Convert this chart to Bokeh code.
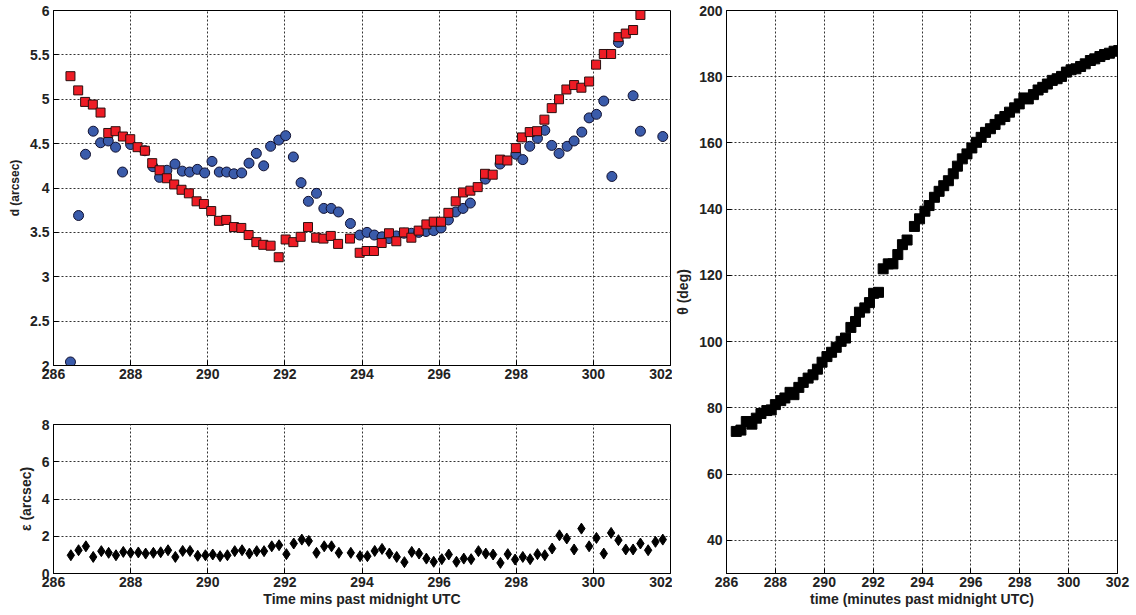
from bokeh.plotting import figure
from bokeh.layouts import row, column
from bokeh.models import FixedTicker, CustomJSTickFormatter
from bokeh.embed import file_html
from bokeh.resources import INLINE

# ---- top-left: d (arcsec) ----
red_t = [286.44, 286.64, 286.82, 287.02, 287.22, 287.42, 287.61, 287.80, 287.99, 288.18,
         288.37, 288.56, 288.75, 288.94, 289.13, 289.32, 289.51, 289.71, 289.90, 290.09,
         290.29, 290.48, 290.68, 290.87, 291.06, 291.26, 291.44, 291.63, 291.84, 292.02,
         292.22, 292.41, 292.60, 292.81, 293.00, 293.19, 293.38, 293.69, 293.94, 294.12,
         294.31, 294.51, 294.70, 294.89, 295.09, 295.28, 295.47, 295.67, 295.86, 296.05,
         296.24, 296.43, 296.62, 296.81, 297.00, 297.19, 297.39, 297.58, 297.77, 297.99,
         298.15, 298.35, 298.54, 298.73, 298.92, 299.11, 299.30, 299.50, 299.69, 299.89,
         300.07, 300.27, 300.46, 300.65, 300.84, 301.03, 301.22]
red_d = [5.26, 5.10, 4.97, 4.94, 4.85, 4.62, 4.64, 4.58, 4.55, 4.46,
         4.42, 4.28, 4.20, 4.11, 4.04, 3.98, 3.94, 3.85, 3.82, 3.74,
         3.63, 3.64, 3.56, 3.55, 3.47, 3.39, 3.36, 3.35, 3.22, 3.42,
         3.39, 3.45, 3.56, 3.44, 3.43, 3.46, 3.37, 3.43, 3.27, 3.29,
         3.29, 3.38, 3.49, 3.40, 3.50, 3.44, 3.52, 3.59, 3.62, 3.62,
         3.72, 3.85, 3.95, 3.97, 4.01, 4.16, 4.15, 4.32, 4.31, 4.45,
         4.57, 4.63, 4.64, 4.77, 4.90, 5.00, 5.11, 5.16, 5.13, 5.20,
         5.39, 5.51, 5.51, 5.70, 5.74, 5.78, 5.95]

blue_t = [286.44, 286.65, 286.83, 287.03, 287.22, 287.42, 287.61, 287.79, 288.00, 288.37,
          288.58, 288.75, 288.94, 289.15, 289.34, 289.53, 289.73, 289.92, 290.11, 290.30,
          290.49, 290.68, 290.88, 291.07, 291.26, 291.45, 291.63, 291.84, 292.02, 292.22,
          292.42, 292.61, 292.82, 293.01, 293.20, 293.39, 293.70, 293.94, 294.13, 294.32,
          294.52, 294.70, 294.89, 295.09, 295.28, 295.47, 295.66, 295.86, 296.05, 296.24,
          296.43, 296.62, 296.81, 297.20, 297.58, 297.99, 298.17, 298.35, 298.55, 298.74,
          298.92, 299.11, 299.32, 299.50, 299.70, 299.89, 300.08, 300.27, 300.48, 300.65,
          301.03, 301.22, 301.80]
blue_d = [2.04, 3.69, 4.38, 4.64, 4.51, 4.53, 4.46, 4.18, 4.49, 4.42,
          4.24, 4.12, 4.20, 4.27, 4.19, 4.18, 4.21, 4.17, 4.30, 4.18,
          4.18, 4.16, 4.17, 4.28, 4.39, 4.25, 4.47, 4.54, 4.59, 4.35,
          4.06, 3.85, 3.94, 3.77, 3.77, 3.73, 3.60, 3.47, 3.50, 3.47,
          3.45, 3.43, 3.46, 3.49, 3.49, 3.50, 3.51, 3.52, 3.55, 3.64,
          3.73, 3.77, 3.83, 4.10, 4.27, 4.38, 4.32, 4.47, 4.56, 4.65,
          4.48, 4.39, 4.47, 4.53, 4.63, 4.79, 4.83, 4.98, 4.13, 5.64,
          5.04, 4.64, 4.58]

# ---- bottom-left: epsilon (arcsec) ----
eps_t = [286.45, 286.65, 286.84, 287.03, 287.24, 287.43, 287.62, 287.81, 288.00, 288.20,
         288.39, 288.59, 288.78, 288.97, 289.16, 289.35, 289.54, 289.74, 289.94, 290.13,
         290.32, 290.51, 290.70, 290.89, 291.08, 291.27, 291.46, 291.66, 291.85, 292.04,
         292.23, 292.44, 292.62, 292.82, 293.02, 293.21, 293.40, 293.71, 293.95, 294.14,
         294.33, 294.52, 294.71, 294.90, 295.10, 295.29, 295.48, 295.67, 295.86, 296.07,
         296.25, 296.45, 296.64, 296.83, 297.02, 297.21, 297.40, 297.59, 297.78, 297.97,
         298.17, 298.36, 298.55, 298.74, 298.93, 299.12, 299.31, 299.50, 299.69, 299.89,
         300.08, 300.27, 300.46, 300.65, 300.84, 301.03, 301.22, 301.42, 301.61, 301.80]
eps = [0.98, 1.25, 1.46, 0.89, 1.20, 1.11, 0.98, 1.16, 1.11, 1.13,
       1.07, 1.11, 1.14, 1.25, 0.89, 1.21, 1.21, 0.95, 0.98, 1.02,
       0.93, 0.98, 1.20, 1.25, 1.07, 1.20, 1.20, 1.46, 1.52, 1.04,
       1.61, 1.82, 1.75, 1.11, 1.46, 1.46, 1.11, 1.11, 0.93, 0.93,
       1.21, 1.32, 1.07, 0.89, 0.61, 1.16, 1.07, 0.80, 0.63, 0.77,
       1.02, 0.63, 0.80, 0.77, 1.20, 1.07, 1.02, 0.57, 1.04, 0.75,
       0.89, 0.77, 1.04, 0.98, 1.34, 2.05, 1.88, 1.29, 2.41, 1.46,
       1.91, 1.07, 2.18, 1.79, 1.29, 1.29, 1.61, 1.25, 1.70, 1.82]

# ---- right: theta (deg) ----
theta_t = [286.40, 286.59, 286.81, 287.04, 287.22, 287.41, 287.65, 287.83, 288.00, 288.22,
           288.39, 288.60, 288.76, 288.96, 289.14, 289.34, 289.54, 289.72, 289.91, 290.11,
           290.30, 290.49, 290.69, 290.87, 291.09, 291.28, 291.44, 291.66, 291.85, 292.02,
           292.22, 292.41, 292.62, 292.81, 293.01, 293.20, 293.39, 293.69, 293.90, 294.12,
           294.29, 294.51, 294.70, 294.89, 295.08, 295.28, 295.45, 295.65, 295.84, 296.04,
           296.23, 296.42, 296.60, 296.80, 296.99, 297.19, 297.39, 297.58, 297.79, 297.98,
           298.17, 298.35, 298.56, 298.75, 298.94, 299.13, 299.33, 299.53, 299.71, 299.91,
           300.10, 300.30, 300.49, 300.68, 300.89, 301.07, 301.28, 301.47, 301.67, 301.86,
           302.05]
theta = [72.9, 73.3, 75.9, 75.1, 76.9, 78.3, 79.2, 79.4, 81.0, 82.2,
         83.0, 84.7, 84.0, 86.2, 87.7, 89.0, 90.0, 91.7, 93.8, 95.5,
         96.8, 98.3, 100.1, 101.1, 104.3, 106.1, 108.9, 110.2, 111.8, 114.6,
         114.9, 122.0, 123.5, 123.5, 126.3, 129.3, 130.7, 134.8, 137.1, 139.4,
         141.1, 143.6, 145.4, 147.1, 148.6, 150.7, 153.0, 155.2, 156.7, 158.5,
         160.2, 161.7, 163.2, 164.3, 165.6, 167.0, 168.0, 169.3, 170.6, 171.8,
         173.6, 173.3, 174.6, 176.0, 176.8, 177.8, 178.9, 179.4, 180.1, 181.4,
         182.1, 182.4, 183.1, 183.9, 184.9, 185.4, 186.1, 186.7, 187.1, 187.7,
         187.9]

x_ticks = [286, 288, 290, 292, 294, 296, 298, 300, 302]
d_ticks = [2, 2.5, 3, 3.5, 4, 4.5, 5, 5.5, 6]
eps_ticks = [0, 2, 4, 6, 8]
theta_ticks = [40, 60, 80, 100, 120, 140, 160, 180, 200]

FONT = "Liberation Sans"
fmt_code = "return tick.toString();"


def style(p, xt, yt, xlabel, ylabel, label_size="13px"):
    p.outline_line_color = "black"
    p.outline_line_width = 1
    p.background_fill_color = "white"
    p.border_fill_color = "white"
    for ax in (p.xaxis[0], p.yaxis[0]):
        ax.axis_line_color = "black"
        ax.major_tick_in = 5
        ax.major_tick_out = 0
        ax.minor_tick_line_color = None
        ax.major_label_text_font = FONT
        ax.major_label_text_font_style = "bold"
        ax.major_label_text_font_size = "14px"
        ax.major_label_text_color = "#222222"
        ax.axis_label_text_font = FONT
        ax.axis_label_text_font_style = "bold"
        ax.axis_label_text_font_size = label_size
        ax.axis_label_text_color = "#222222"
        ax.formatter = CustomJSTickFormatter(code=fmt_code)
    p.xaxis[0].ticker = FixedTicker(ticks=xt)
    p.yaxis[0].ticker = FixedTicker(ticks=yt)
    p.xaxis[0].major_label_standoff = 3
    p.yaxis[0].major_label_standoff = 4
    p.xaxis[0].axis_label_standoff = 1
    p.yaxis[0].axis_label_standoff = 5
    if xlabel:
        p.xaxis[0].axis_label = xlabel
    if ylabel:
        p.yaxis[0].axis_label = ylabel
    for g in (p.xgrid[0], p.ygrid[0]):
        g.grid_line_color = "#333333"
        g.grid_line_dash = "2 2"
        g.grid_line_width = 1


p1 = figure(width=672, height=395, x_range=(286, 302), y_range=(2, 6),
            min_border_left=53, min_border_right=2, min_border_top=10, min_border_bottom=30,
            output_backend="svg", toolbar_location=None)
style(p1, x_ticks, d_ticks, None, "d (arcsec)", "12px")
p1.scatter(blue_t, blue_d, marker="circle", size=10, fill_color="#3A5BAA",
           line_color="#101030", line_width=1)
p1.scatter(red_t, red_d, marker="square", size=9, fill_color="#EE1C25",
           line_color="#2A1010", line_width=1)

p2 = figure(width=672, height=220, x_range=(286, 302), y_range=(0, 8),
            min_border_left=53, min_border_right=2, min_border_top=29, min_border_bottom=42,
            output_backend="svg", toolbar_location=None)
style(p2, x_ticks, eps_ticks, "Time mins past midnight UTC", "ε (arcsec)", "14px")
p2.scatter(eps_t, eps, marker="diamond", size=11, fill_color="black", line_color="black")

p3 = figure(width=464, height=615, x_range=(286, 302), y_range=(30, 200),
            min_border_left=51, min_border_right=19, min_border_top=10, min_border_bottom=42,
            output_backend="svg", toolbar_location=None)
style(p3, x_ticks, theta_ticks, "time (minutes past midnight UTC)", "θ (deg)", "14px")
p3.scatter(theta_t, theta, marker="square", size=10, fill_color="black", line_color="black")

layout = row(column(p1, p2, spacing=0), p3, spacing=0)

open("out.html", "w").write(file_html(layout, INLINE))
